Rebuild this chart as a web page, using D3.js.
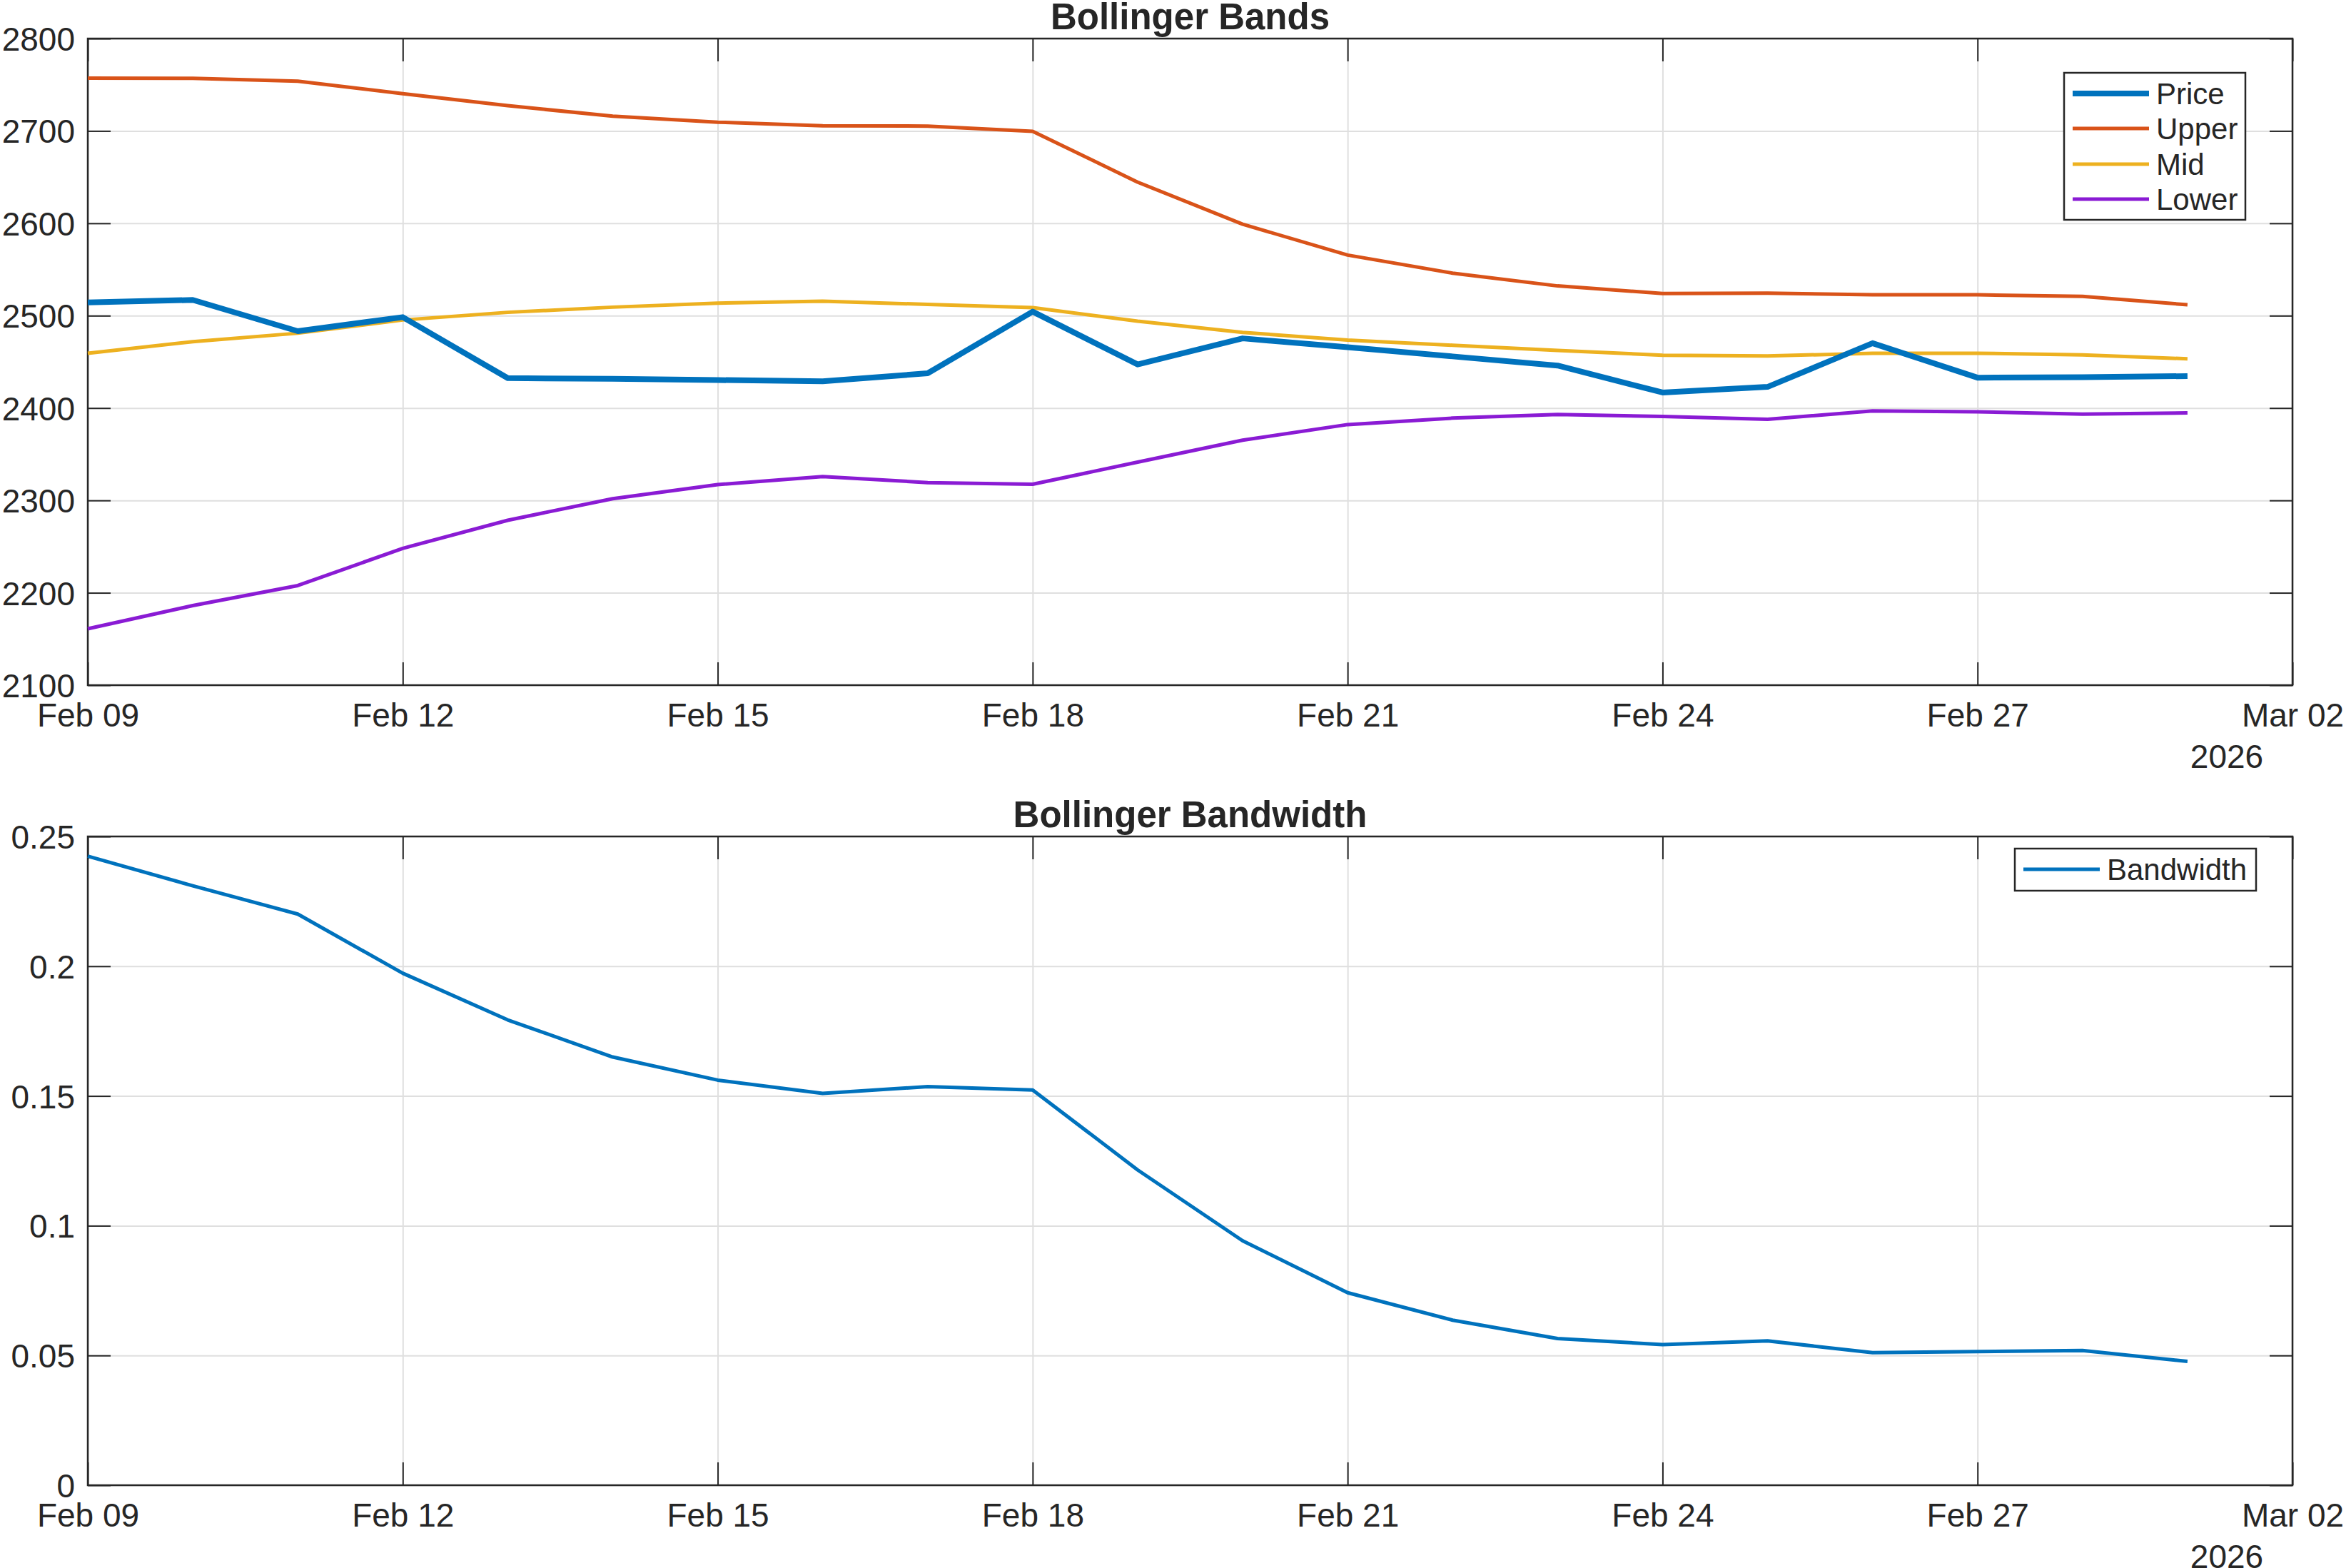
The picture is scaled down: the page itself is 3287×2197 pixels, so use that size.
<!DOCTYPE html>
<html>
<head>
<meta charset="utf-8">
<script src="https://cdn.jsdelivr.net/npm/d3@7"></script>
<style>
  body { margin: 0; background: #fff; }
  svg { display: block; font-family: "Liberation Sans", Arial, sans-serif; }
  .grid line { stroke: #dfdfdf; stroke-width: 2; }
  .grid .domain { display: none; }
  .axis line { stroke: #262626; stroke-width: 2; }
  .axis .domain { display: none; }
  .axis text { fill: #262626; font-size: 46px; font-family: "Liberation Sans", Arial, sans-serif; }
</style>
</head>
<body>
<div id="chart"></div>
<script>
// daily values
let dates = ["2026-02-09", "2026-02-10", "2026-02-11", "2026-02-12", "2026-02-13", "2026-02-14", "2026-02-15",
  "2026-02-16", "2026-02-17", "2026-02-18", "2026-02-19", "2026-02-20", "2026-02-21", "2026-02-22",
  "2026-02-23", "2026-02-24", "2026-02-25", "2026-02-26", "2026-02-27", "2026-02-28", "2026-03-01"]

let price = [2514.4, 2517.0, 2483.2, 2498.4, 2432.4, 2431.6, 2430.3, 2429.0, 2437.6, 2504.4, 2447.2,
  2475.4, 2465.8, 2455.9, 2446.0, 2416.8, 2422.9, 2470.2, 2432.9, 2433.3, 2434.6]
let upper = [2757.2, 2757.0, 2753.8, 2740.3, 2727.3, 2716.0, 2709.5, 2705.6, 2705.2, 2699.6, 2644.5,
  2599.0, 2565.6, 2546.0, 2532.2, 2524.0, 2524.4, 2522.6, 2522.6, 2520.9, 2511.8]
let mid = [2459.3, 2471.9, 2481.0, 2495.3, 2503.6, 2509.2, 2513.5, 2515.7, 2512.2, 2508.8, 2494.0,
  2481.9, 2473.6, 2468.0, 2462.4, 2457.2, 2456.3, 2459.3, 2459.3, 2457.6, 2453.3]
let lower = [2161.0, 2186.1, 2207.8, 2248.1, 2278.5, 2301.9, 2317.1, 2325.8, 2319.3, 2317.5, 2341.4,
  2365.2, 2382.1, 2389.1, 2393.0, 2390.8, 2387.8, 2396.9, 2396.0, 2393.4, 2394.7]
let bandwidth = [0.2424, 0.2310, 0.2201, 0.1973, 0.1793, 0.1650, 0.1561, 0.1510, 0.1536, 0.1523, 0.1215,
  0.0942, 0.0742, 0.0636, 0.0565, 0.0542, 0.0556, 0.0511, 0.0515, 0.0519, 0.0477]

let xTicks = ["2026-02-09", "2026-02-12", "2026-02-15", "2026-02-18", "2026-02-21", "2026-02-24", "2026-02-27", "2026-03-02"]
let bandTicks = [2100, 2200, 2300, 2400, 2500, 2600, 2700, 2800]
let widthTicks = [0, 0.05, 0.1, 0.15, 0.2, 0.25]

let parse = d3.utcParse("%Y-%m-%d")
let W = 3287, H = 2197
let left = 123, right = 3212

let svg = d3.select("#chart").append("svg")
    .attr("width", W)
    .attr("height", H)

let x = d3.scaleUtc()
    .domain([parse("2026-02-09"), parse("2026-03-02")])
    .range([left, right])

let fmtDate = d3.utcFormat("%b %d")
let tickDates = xTicks.map(parse)

function panel(top, bottom, yDomain, yTicks, yFmt, title) {
  let y = d3.scaleLinear().domain(yDomain).range([bottom, top])
  let g = svg.append("g")

  // grid
  g.append("g").attr("class", "grid")
    .attr("transform", "translate(0," + bottom + ")")
    .call(d3.axisBottom(x).tickValues(tickDates).tickSize(-(bottom - top)).tickFormat(""))
  g.append("g").attr("class", "grid")
    .attr("transform", "translate(" + left + ",0)")
    .call(d3.axisLeft(y).tickValues(yTicks).tickSize(-(right - left)).tickFormat(""))

  // ticks point inward on all four sides
  let xb = g.append("g").attr("class", "axis")
    .attr("transform", "translate(0," + bottom + ")")
    .call(d3.axisBottom(x).tickValues(tickDates).tickSize(-32).tickFormat(fmtDate))
  xb.selectAll("text").attr("y", 58).attr("dy", null)
  xb.append("text")
    .attr("x", 3120)
    .attr("y", 116)
    .attr("text-anchor", "middle")
    .text("2026")

  g.append("g").attr("class", "axis")
    .attr("transform", "translate(0," + top + ")")
    .call(d3.axisTop(x).tickValues(tickDates).tickSize(-32).tickFormat(""))

  let yl = g.append("g").attr("class", "axis")
    .attr("transform", "translate(" + left + ",0)")
    .call(d3.axisLeft(y).tickValues(yTicks).tickSize(-32).tickFormat(yFmt))
  yl.selectAll("text").attr("x", -18).attr("dy", "0.36em")

  g.append("g").attr("class", "axis")
    .attr("transform", "translate(" + right + ",0)")
    .call(d3.axisRight(y).tickValues(yTicks).tickSize(-32).tickFormat(""))

  g.append("rect")
    .attr("x", left).attr("y", top)
    .attr("width", right - left).attr("height", bottom - top)
    .attr("fill", "none")
    .attr("stroke", "#262626")
    .attr("stroke-width", 2.5)

  g.append("text")
    .attr("x", (left + right) / 2)
    .attr("y", top - 13)
    .attr("text-anchor", "middle")
    .attr("font-size", 51)
    .attr("font-weight", "bold")
    .attr("fill", "#262626")
    .text(title)

  return y
}

function drawLine(y, values, color, width) {
  let line = d3.line()
    .x((d, i) => x(parse(dates[i])))
    .y(d => y(d))
  svg.append("path")
    .datum(values)
    .attr("fill", "none")
    .attr("stroke", color)
    .attr("stroke-width", width)
    .attr("stroke-linejoin", "round")
    .attr("d", line)
}

function legend(x0, y0, w, h, items) {
  let g = svg.append("g")
  g.append("rect")
    .attr("x", x0).attr("y", y0)
    .attr("width", w).attr("height", h)
    .attr("fill", "#fff")
    .attr("stroke", "#262626")
    .attr("stroke-width", 2.5)
  items.forEach(it => {
    g.append("line")
      .attr("x1", it.lx).attr("x2", it.lx + 107)
      .attr("y1", it.y).attr("y2", it.y)
      .attr("stroke", it.color)
      .attr("stroke-width", it.width)
    g.append("text")
      .attr("x", it.lx + 117)
      .attr("y", it.y)
      .attr("dy", "0.36em")
      .attr("font-size", 42)
      .attr("fill", "#262626")
      .text(it.name)
  })
}

let colors = {price: "#0072BD", upper: "#D95319", mid: "#EDB120", lower: "#8A1BD4"}

// Top: bands
let yBands = panel(54, 960, [2100, 2800], bandTicks, d3.format("d"), "Bollinger Bands")
drawLine(yBands, upper, colors.upper, 5)
drawLine(yBands, mid, colors.mid, 5)
drawLine(yBands, lower, colors.lower, 5)
drawLine(yBands, price, colors.price, 8)

legend(2892, 102, 254, 206, [
  {name: "Price", color: colors.price, width: 8, lx: 2904, y: 131},
  {name: "Upper", color: colors.upper, width: 5, lx: 2904, y: 180},
  {name: "Mid", color: colors.mid, width: 5, lx: 2904, y: 230},
  {name: "Lower", color: colors.lower, width: 5, lx: 2904, y: 279}
])

// Bottom: bandwidth
let yWidth = panel(1172, 2081, [0, 0.25], widthTicks, d => d === 0 ? "0" : String(d), "Bollinger Bandwidth")
drawLine(yWidth, bandwidth, colors.price, 5)

legend(2823, 1189, 338, 59, [
  {name: "Bandwidth", color: colors.price, width: 5, lx: 2835, y: 1218}
])
</script>
</body>
</html>
